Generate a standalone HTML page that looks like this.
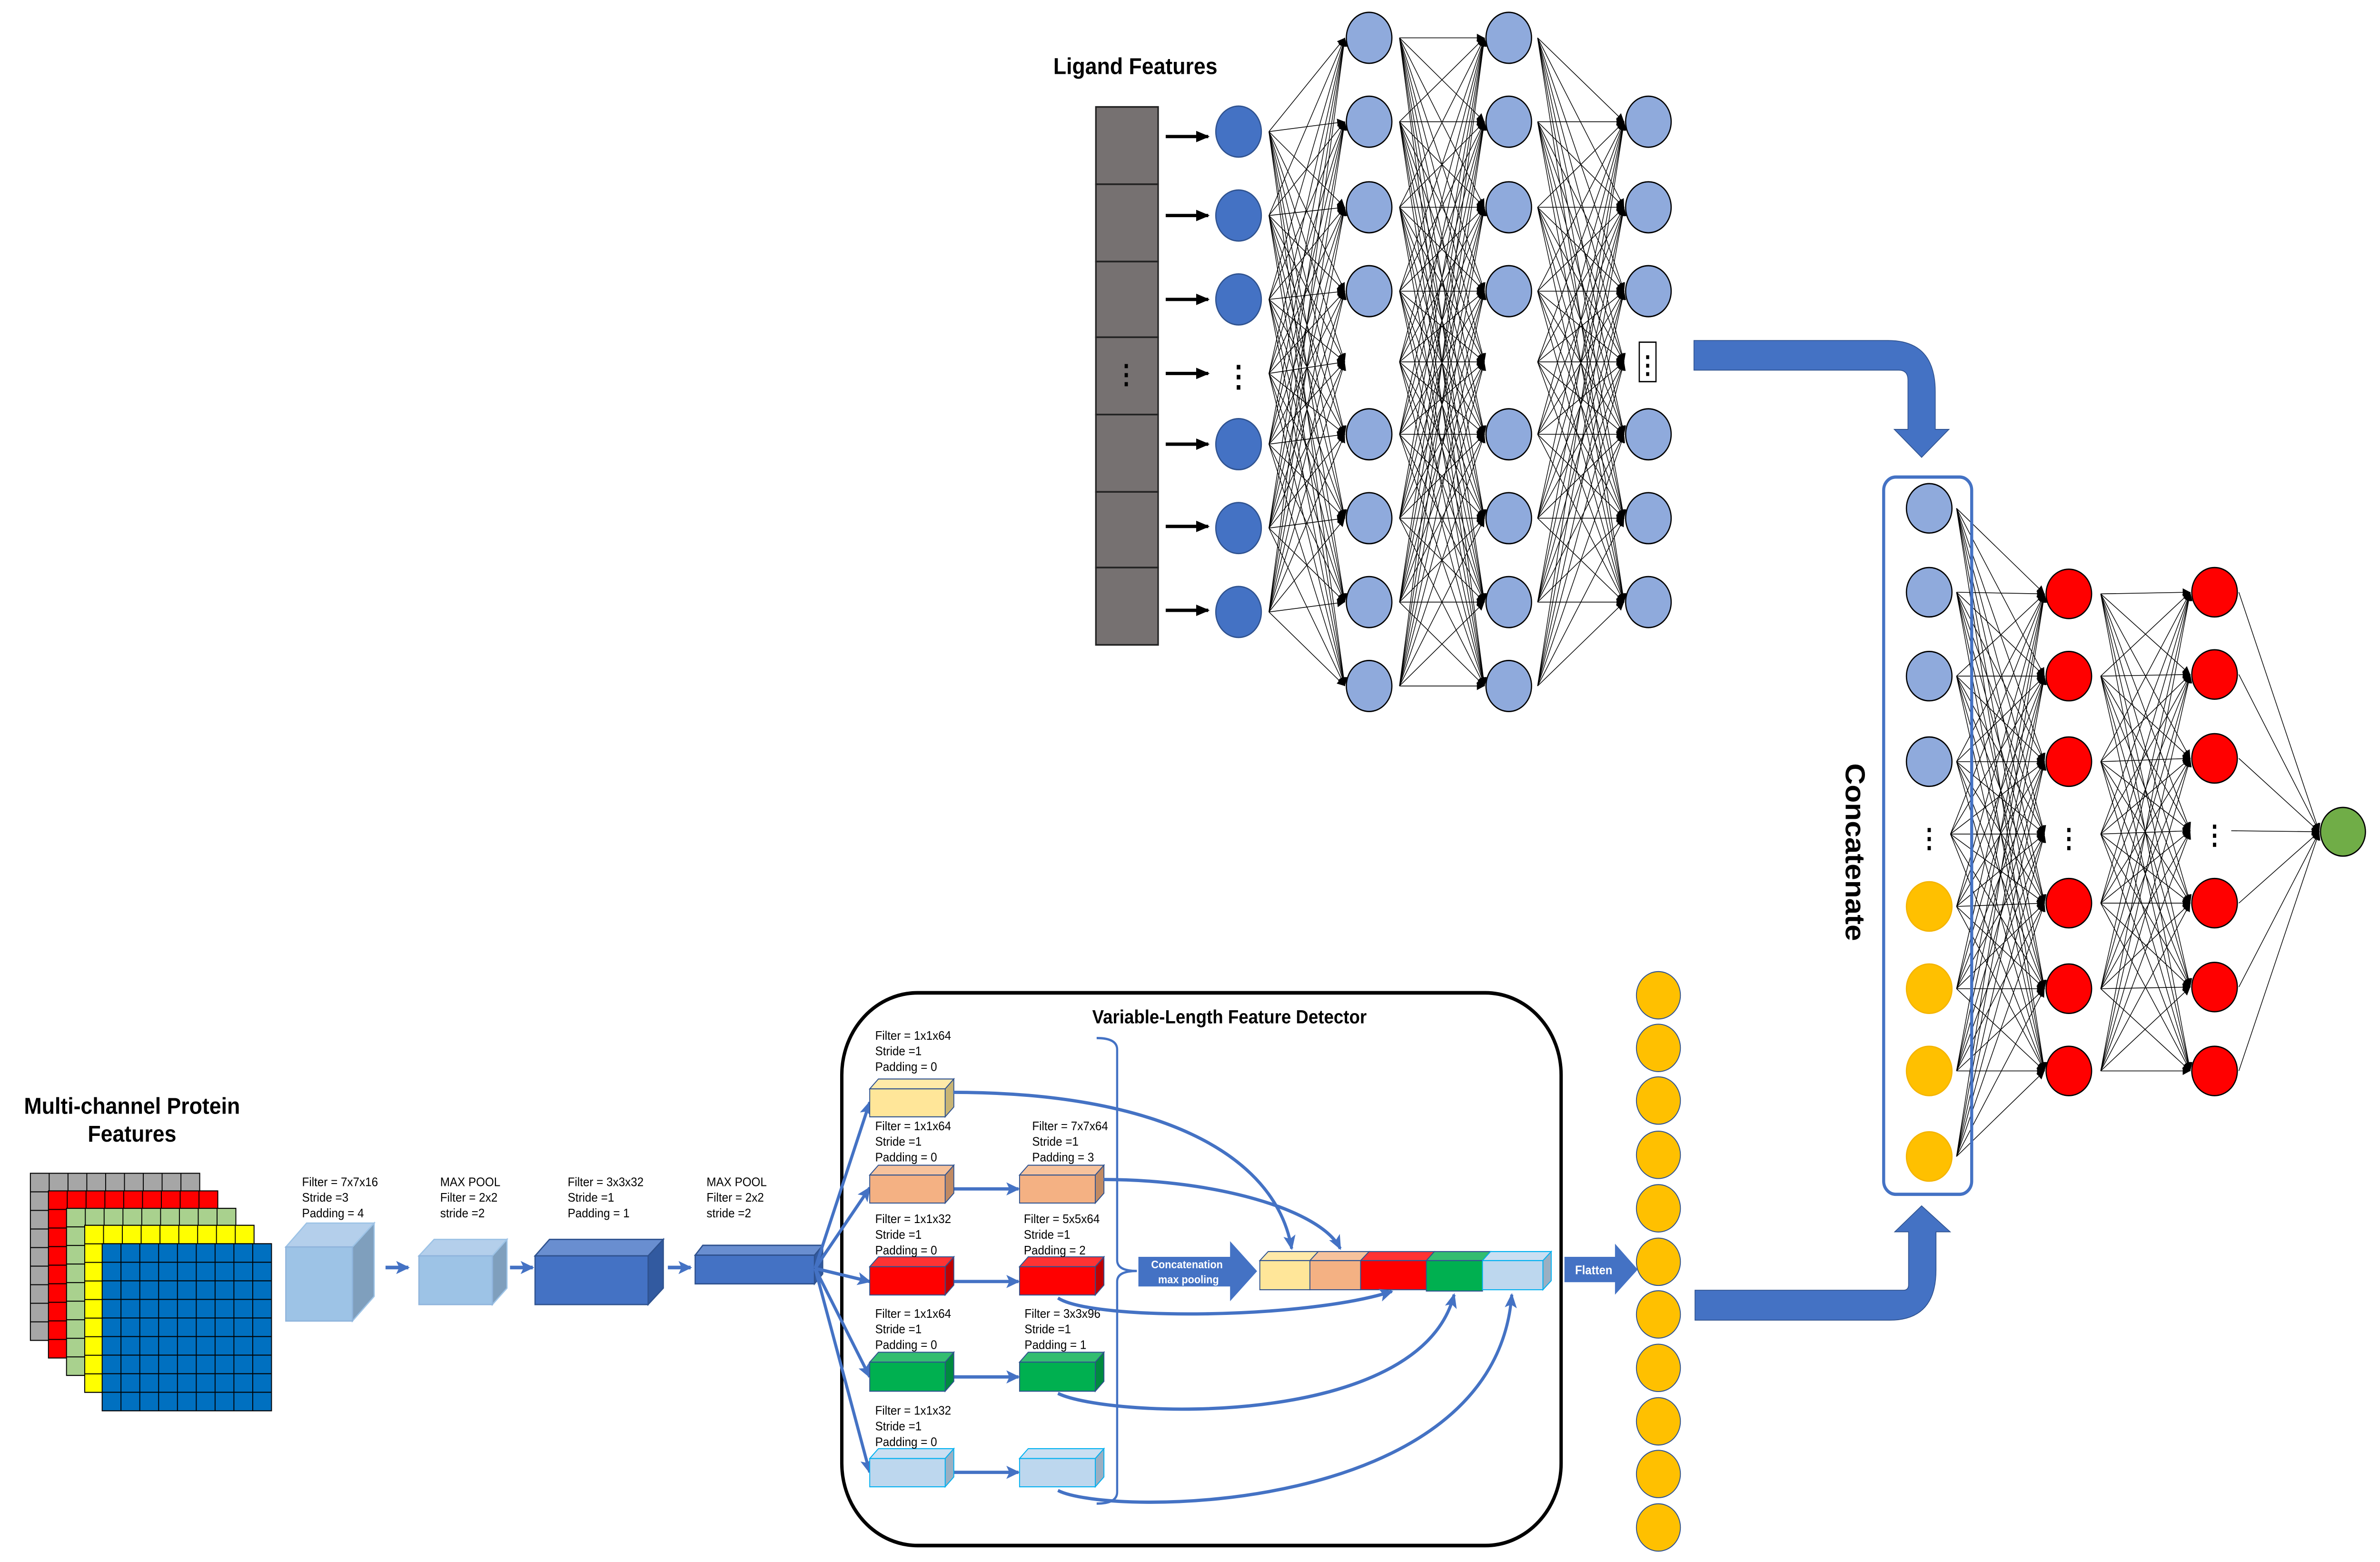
<!DOCTYPE html>
<html><head><meta charset="utf-8"><style>html,body{margin:0;padding:0;background:#fff;width:100%;height:100%;overflow:hidden}svg{display:block;width:100vw;height:100vh}</style></head>
<body>
<svg xmlns="http://www.w3.org/2000/svg" viewBox="0 0 1568 949.5" preserveAspectRatio="none" font-family="Liberation Sans, sans-serif">
<defs>
<marker id="bk" markerUnits="userSpaceOnUse" markerWidth="6" markerHeight="6" refX="5" refY="3" orient="auto"><path d="M0,0.5 L5,3 L0,5.5 Z" fill="#000"/></marker>
<marker id="bl" markerUnits="userSpaceOnUse" markerWidth="10" markerHeight="10" refX="8" refY="5" orient="auto"><path d="M0,1 L9,5 L0,9 L2,5 Z" fill="#4472c4"/></marker>
<marker id="ar" markerUnits="userSpaceOnUse" markerWidth="10" markerHeight="10" refX="8" refY="5" orient="auto"><path d="M0,1.5 L9,5 L0,8.5 Z" fill="#000"/></marker>
<pattern id="pg" patternUnits="userSpaceOnUse" x="20" y="713.2" width="12.4" height="11.29"><rect width="12.4" height="11.29" fill="#a6a6a6" stroke="#000" stroke-width="0.6"/></pattern>
<pattern id="pr" patternUnits="userSpaceOnUse" x="31.9" y="723.9" width="12.4" height="11.29"><rect width="12.4" height="11.29" fill="#ff0000" stroke="#000" stroke-width="0.6"/></pattern>
<pattern id="pn" patternUnits="userSpaceOnUse" x="43.8" y="734.5" width="12.4" height="11.29"><rect width="12.4" height="11.29" fill="#a9d18e" stroke="#000" stroke-width="0.6"/></pattern>
<pattern id="py" patternUnits="userSpaceOnUse" x="55.8" y="744.8" width="12.4" height="11.29"><rect width="12.4" height="11.29" fill="#ffff00" stroke="#000" stroke-width="0.6"/></pattern>
<pattern id="pb" patternUnits="userSpaceOnUse" x="67.3" y="756" width="12.4" height="11.29"><rect width="12.4" height="11.29" fill="#0070c0" stroke="#000" stroke-width="0.6"/></pattern>
</defs>
<rect width="1568" height="949.5" fill="#fff"/>

<!-- Ligand -->
<text x="748" y="45" font-size="14" font-weight="bold" text-anchor="middle">Ligand Features</text>
<g fill="#767171" stroke="#222" stroke-width="1">
<rect x="722" y="65" width="41" height="47"/><rect x="722" y="112" width="41" height="47"/><rect x="722" y="159" width="41" height="46"/><rect x="722" y="205" width="41" height="47"/><rect x="722" y="252" width="41" height="47"/><rect x="722" y="299" width="41" height="46"/><rect x="722" y="345" width="41" height="47"/>
</g>
<text x="742" y="233" font-size="16" font-weight="bold" text-anchor="middle">⋮</text>
<g stroke="#000" stroke-width="2" marker-end="url(#ar)">
<line x1="768" y1="83" x2="796" y2="83"/><line x1="768" y1="131" x2="796" y2="131"/><line x1="768" y1="182" x2="796" y2="182"/><line x1="768" y1="227" x2="796" y2="227"/><line x1="768" y1="270" x2="796" y2="270"/><line x1="768" y1="320" x2="796" y2="320"/><line x1="768" y1="371" x2="796" y2="371"/>
</g>
<text x="816" y="235" font-size="18" font-weight="bold" text-anchor="middle">⋮</text>

<g stroke="#000" stroke-width="0.45" fill="none" marker-end="url(#bk)">
<path d="M836 80L886 23"/><path d="M836 80L886 74"/><path d="M836 80L886 126"/><path d="M836 80L886 177"/><path d="M836 80L886 220"/><path d="M836 80L886 264"/><path d="M836 80L886 315"/><path d="M836 80L886 366"/><path d="M836 80L886 417"/>
<path d="M836 131L886 23"/><path d="M836 131L886 74"/><path d="M836 131L886 126"/><path d="M836 131L886 177"/><path d="M836 131L886 220"/><path d="M836 131L886 264"/><path d="M836 131L886 315"/><path d="M836 131L886 366"/><path d="M836 131L886 417"/>
<path d="M836 182L886 23"/><path d="M836 182L886 74"/><path d="M836 182L886 126"/><path d="M836 182L886 177"/><path d="M836 182L886 220"/><path d="M836 182L886 264"/><path d="M836 182L886 315"/><path d="M836 182L886 366"/><path d="M836 182L886 417"/>
<path d="M836 227L886 23"/><path d="M836 227L886 74"/><path d="M836 227L886 126"/><path d="M836 227L886 177"/><path d="M836 227L886 220"/><path d="M836 227L886 264"/><path d="M836 227L886 315"/><path d="M836 227L886 366"/><path d="M836 227L886 417"/>
<path d="M836 270L886 23"/><path d="M836 270L886 74"/><path d="M836 270L886 126"/><path d="M836 270L886 177"/><path d="M836 270L886 220"/><path d="M836 270L886 264"/><path d="M836 270L886 315"/><path d="M836 270L886 366"/><path d="M836 270L886 417"/>
<path d="M836 321L886 23"/><path d="M836 321L886 74"/><path d="M836 321L886 126"/><path d="M836 321L886 177"/><path d="M836 321L886 220"/><path d="M836 321L886 264"/><path d="M836 321L886 315"/><path d="M836 321L886 366"/><path d="M836 321L886 417"/>
<path d="M836 372L886 23"/><path d="M836 372L886 74"/><path d="M836 372L886 126"/><path d="M836 372L886 177"/><path d="M836 372L886 220"/><path d="M836 372L886 264"/><path d="M836 372L886 315"/><path d="M836 372L886 366"/><path d="M836 372L886 417"/>
<path d="M922 23L978 23"/><path d="M922 23L978 74"/><path d="M922 23L978 126"/><path d="M922 23L978 177"/><path d="M922 23L978 220"/><path d="M922 23L978 264"/><path d="M922 23L978 315"/><path d="M922 23L978 366"/><path d="M922 23L978 417"/>
<path d="M922 74L978 23"/><path d="M922 74L978 74"/><path d="M922 74L978 126"/><path d="M922 74L978 177"/><path d="M922 74L978 220"/><path d="M922 74L978 264"/><path d="M922 74L978 315"/><path d="M922 74L978 366"/><path d="M922 74L978 417"/>
<path d="M922 126L978 23"/><path d="M922 126L978 74"/><path d="M922 126L978 126"/><path d="M922 126L978 177"/><path d="M922 126L978 220"/><path d="M922 126L978 264"/><path d="M922 126L978 315"/><path d="M922 126L978 366"/><path d="M922 126L978 417"/>
<path d="M922 177L978 23"/><path d="M922 177L978 74"/><path d="M922 177L978 126"/><path d="M922 177L978 177"/><path d="M922 177L978 220"/><path d="M922 177L978 264"/><path d="M922 177L978 315"/><path d="M922 177L978 366"/><path d="M922 177L978 417"/>
<path d="M922 220L978 23"/><path d="M922 220L978 74"/><path d="M922 220L978 126"/><path d="M922 220L978 177"/><path d="M922 220L978 220"/><path d="M922 220L978 264"/><path d="M922 220L978 315"/><path d="M922 220L978 366"/><path d="M922 220L978 417"/>
<path d="M922 264L978 23"/><path d="M922 264L978 74"/><path d="M922 264L978 126"/><path d="M922 264L978 177"/><path d="M922 264L978 220"/><path d="M922 264L978 264"/><path d="M922 264L978 315"/><path d="M922 264L978 366"/><path d="M922 264L978 417"/>
<path d="M922 315L978 23"/><path d="M922 315L978 74"/><path d="M922 315L978 126"/><path d="M922 315L978 177"/><path d="M922 315L978 220"/><path d="M922 315L978 264"/><path d="M922 315L978 315"/><path d="M922 315L978 366"/><path d="M922 315L978 417"/>
<path d="M922 366L978 23"/><path d="M922 366L978 74"/><path d="M922 366L978 126"/><path d="M922 366L978 177"/><path d="M922 366L978 220"/><path d="M922 366L978 264"/><path d="M922 366L978 315"/><path d="M922 366L978 366"/><path d="M922 366L978 417"/>
<path d="M922 417L978 23"/><path d="M922 417L978 74"/><path d="M922 417L978 126"/><path d="M922 417L978 177"/><path d="M922 417L978 220"/><path d="M922 417L978 264"/><path d="M922 417L978 315"/><path d="M922 417L978 366"/><path d="M922 417L978 417"/>
<path d="M1013 23L1070 74"/><path d="M1013 23L1070 126"/><path d="M1013 23L1070 177"/><path d="M1013 23L1070 220"/><path d="M1013 23L1070 264"/><path d="M1013 23L1070 315"/><path d="M1013 23L1070 366"/>
<path d="M1013 74L1070 74"/><path d="M1013 74L1070 126"/><path d="M1013 74L1070 177"/><path d="M1013 74L1070 220"/><path d="M1013 74L1070 264"/><path d="M1013 74L1070 315"/><path d="M1013 74L1070 366"/>
<path d="M1013 126L1070 74"/><path d="M1013 126L1070 126"/><path d="M1013 126L1070 177"/><path d="M1013 126L1070 220"/><path d="M1013 126L1070 264"/><path d="M1013 126L1070 315"/><path d="M1013 126L1070 366"/>
<path d="M1013 177L1070 74"/><path d="M1013 177L1070 126"/><path d="M1013 177L1070 177"/><path d="M1013 177L1070 220"/><path d="M1013 177L1070 264"/><path d="M1013 177L1070 315"/><path d="M1013 177L1070 366"/>
<path d="M1013 220L1070 74"/><path d="M1013 220L1070 126"/><path d="M1013 220L1070 177"/><path d="M1013 220L1070 220"/><path d="M1013 220L1070 264"/><path d="M1013 220L1070 315"/><path d="M1013 220L1070 366"/>
<path d="M1013 264L1070 74"/><path d="M1013 264L1070 126"/><path d="M1013 264L1070 177"/><path d="M1013 264L1070 220"/><path d="M1013 264L1070 264"/><path d="M1013 264L1070 315"/><path d="M1013 264L1070 366"/>
<path d="M1013 315L1070 74"/><path d="M1013 315L1070 126"/><path d="M1013 315L1070 177"/><path d="M1013 315L1070 220"/><path d="M1013 315L1070 264"/><path d="M1013 315L1070 315"/><path d="M1013 315L1070 366"/>
<path d="M1013 366L1070 74"/><path d="M1013 366L1070 126"/><path d="M1013 366L1070 177"/><path d="M1013 366L1070 220"/><path d="M1013 366L1070 264"/><path d="M1013 366L1070 315"/><path d="M1013 366L1070 366"/>
<path d="M1013 417L1070 74"/><path d="M1013 417L1070 126"/><path d="M1013 417L1070 177"/><path d="M1013 417L1070 220"/><path d="M1013 417L1070 264"/><path d="M1013 417L1070 315"/><path d="M1013 417L1070 366"/>
<path d="M1289 309L1347 361"/><path d="M1289 309L1347 411"/><path d="M1289 309L1347 463"/><path d="M1289 309L1347 507"/><path d="M1289 309L1347 549"/><path d="M1289 309L1347 601"/><path d="M1289 309L1347 651"/>
<path d="M1289 360L1347 361"/><path d="M1289 360L1347 411"/><path d="M1289 360L1347 463"/><path d="M1289 360L1347 507"/><path d="M1289 360L1347 549"/><path d="M1289 360L1347 601"/><path d="M1289 360L1347 651"/>
<path d="M1289 411L1347 361"/><path d="M1289 411L1347 411"/><path d="M1289 411L1347 463"/><path d="M1289 411L1347 507"/><path d="M1289 411L1347 549"/><path d="M1289 411L1347 601"/><path d="M1289 411L1347 651"/>
<path d="M1289 463L1347 361"/><path d="M1289 463L1347 411"/><path d="M1289 463L1347 463"/><path d="M1289 463L1347 507"/><path d="M1289 463L1347 549"/><path d="M1289 463L1347 601"/><path d="M1289 463L1347 651"/>
<path d="M1285 507L1347 361"/><path d="M1285 507L1347 411"/><path d="M1285 507L1347 463"/><path d="M1285 507L1347 507"/><path d="M1285 507L1347 549"/><path d="M1285 507L1347 601"/><path d="M1285 507L1347 651"/>
<path d="M1289 551L1347 361"/><path d="M1289 551L1347 411"/><path d="M1289 551L1347 463"/><path d="M1289 551L1347 507"/><path d="M1289 551L1347 549"/><path d="M1289 551L1347 601"/><path d="M1289 551L1347 651"/>
<path d="M1289 601L1347 361"/><path d="M1289 601L1347 411"/><path d="M1289 601L1347 463"/><path d="M1289 601L1347 507"/><path d="M1289 601L1347 549"/><path d="M1289 601L1347 601"/><path d="M1289 601L1347 651"/>
<path d="M1289 651L1347 361"/><path d="M1289 651L1347 411"/><path d="M1289 651L1347 463"/><path d="M1289 651L1347 507"/><path d="M1289 651L1347 549"/><path d="M1289 651L1347 601"/><path d="M1289 651L1347 651"/>
<path d="M1289 703L1347 361"/><path d="M1289 703L1347 411"/><path d="M1289 703L1347 463"/><path d="M1289 703L1347 507"/><path d="M1289 703L1347 549"/><path d="M1289 703L1347 601"/><path d="M1289 703L1347 651"/>
<path d="M1384 361L1443 360"/><path d="M1384 361L1443 410"/><path d="M1384 361L1443 461"/><path d="M1384 361L1443 505"/><path d="M1384 361L1443 549"/><path d="M1384 361L1443 600"/><path d="M1384 361L1443 651"/>
<path d="M1384 411L1443 360"/><path d="M1384 411L1443 410"/><path d="M1384 411L1443 461"/><path d="M1384 411L1443 505"/><path d="M1384 411L1443 549"/><path d="M1384 411L1443 600"/><path d="M1384 411L1443 651"/>
<path d="M1384 463L1443 360"/><path d="M1384 463L1443 410"/><path d="M1384 463L1443 461"/><path d="M1384 463L1443 505"/><path d="M1384 463L1443 549"/><path d="M1384 463L1443 600"/><path d="M1384 463L1443 651"/>
<path d="M1384 507L1443 360"/><path d="M1384 507L1443 410"/><path d="M1384 507L1443 461"/><path d="M1384 507L1443 505"/><path d="M1384 507L1443 549"/><path d="M1384 507L1443 600"/><path d="M1384 507L1443 651"/>
<path d="M1384 549L1443 360"/><path d="M1384 549L1443 410"/><path d="M1384 549L1443 461"/><path d="M1384 549L1443 505"/><path d="M1384 549L1443 549"/><path d="M1384 549L1443 600"/><path d="M1384 549L1443 651"/>
<path d="M1384 601L1443 360"/><path d="M1384 601L1443 410"/><path d="M1384 601L1443 461"/><path d="M1384 601L1443 505"/><path d="M1384 601L1443 549"/><path d="M1384 601L1443 600"/><path d="M1384 601L1443 651"/>
<path d="M1384 651L1443 360"/><path d="M1384 651L1443 410"/><path d="M1384 651L1443 461"/><path d="M1384 651L1443 505"/><path d="M1384 651L1443 549"/><path d="M1384 651L1443 600"/><path d="M1384 651L1443 651"/>
<path d="M1475 360L1528 505.6"/><path d="M1475 410L1528 505.6"/><path d="M1475 461L1528 505.6"/><path d="M1470 505L1528 505.6"/><path d="M1475 549L1528 505.6"/><path d="M1475 600L1528 505.6"/><path d="M1475 651L1528 505.6"/>
</g>

<g fill="#4472c4" stroke="#2f528f" stroke-width="0.8">
<ellipse cx="816" cy="80" rx="15" ry="15.5"/><ellipse cx="816" cy="131" rx="15" ry="15.5"/><ellipse cx="816" cy="182" rx="15" ry="15.5"/><ellipse cx="816" cy="270" rx="15" ry="15.5"/><ellipse cx="816" cy="321" rx="15" ry="15.5"/><ellipse cx="816" cy="372" rx="15" ry="15.5"/>
</g>
<g fill="#8faadc" stroke="#000" stroke-width="0.8">
<ellipse cx="902" cy="23" rx="15" ry="15.5"/><ellipse cx="902" cy="74" rx="15" ry="15.5"/><ellipse cx="902" cy="126" rx="15" ry="15.5"/><ellipse cx="902" cy="177" rx="15" ry="15.5"/><ellipse cx="902" cy="264" rx="15" ry="15.5"/><ellipse cx="902" cy="315" rx="15" ry="15.5"/><ellipse cx="902" cy="366" rx="15" ry="15.5"/><ellipse cx="902" cy="417" rx="15" ry="15.5"/>
<ellipse cx="994" cy="23" rx="15" ry="15.5"/><ellipse cx="994" cy="74" rx="15" ry="15.5"/><ellipse cx="994" cy="126" rx="15" ry="15.5"/><ellipse cx="994" cy="177" rx="15" ry="15.5"/><ellipse cx="994" cy="264" rx="15" ry="15.5"/><ellipse cx="994" cy="315" rx="15" ry="15.5"/><ellipse cx="994" cy="366" rx="15" ry="15.5"/><ellipse cx="994" cy="417" rx="15" ry="15.5"/>
<ellipse cx="1086" cy="74" rx="15" ry="15.5"/><ellipse cx="1086" cy="126" rx="15" ry="15.5"/><ellipse cx="1086" cy="177" rx="15" ry="15.5"/><ellipse cx="1086" cy="264" rx="15" ry="15.5"/><ellipse cx="1086" cy="315" rx="15" ry="15.5"/><ellipse cx="1086" cy="366" rx="15" ry="15.5"/>
<ellipse cx="1271" cy="309" rx="15" ry="15"/><ellipse cx="1271" cy="360" rx="15" ry="15"/><ellipse cx="1271" cy="411" rx="15" ry="15"/><ellipse cx="1271" cy="463" rx="15" ry="15"/>
</g>
<g fill="#ffc000" stroke="#f4b400" stroke-width="0.8">
<ellipse cx="1271" cy="551" rx="15" ry="15"/><ellipse cx="1271" cy="601" rx="15" ry="15"/><ellipse cx="1271" cy="651" rx="15" ry="15"/><ellipse cx="1271" cy="703" rx="15" ry="15"/>
</g>
<g fill="#ff0000" stroke="#000" stroke-width="0.8">
<ellipse cx="1363" cy="361" rx="15" ry="15"/><ellipse cx="1363" cy="411" rx="15" ry="15"/><ellipse cx="1363" cy="463" rx="15" ry="15"/><ellipse cx="1363" cy="549" rx="15" ry="15"/><ellipse cx="1363" cy="601" rx="15" ry="15"/><ellipse cx="1363" cy="651" rx="15" ry="15"/>
<ellipse cx="1459" cy="360" rx="15" ry="15"/><ellipse cx="1459" cy="410" rx="15" ry="15"/><ellipse cx="1459" cy="461" rx="15" ry="15"/><ellipse cx="1459" cy="549" rx="15" ry="15"/><ellipse cx="1459" cy="600" rx="15" ry="15"/><ellipse cx="1459" cy="651" rx="15" ry="15"/>
</g>
<ellipse cx="1543.6" cy="505.6" rx="14.8" ry="14.8" fill="#70ad47" stroke="#000" stroke-width="0.8"/>

<rect x="1080" y="208" width="11" height="24" fill="#fff" stroke="#000" stroke-width="0.8"/>
<text x="1085.5" y="227" font-size="15" font-weight="bold" text-anchor="middle">⋮</text>

<path d="M1116,207 L1244,207 Q1275,207 1275,238 L1275,261 L1284,261 L1266,278 L1248,261 L1257,261 L1257,231 Q1257,225 1251,225 L1116,225 Z" fill="#4472c4" stroke="#2f528f" stroke-width="0.5"/>
<path d="M1116.7,802.5 L1245,802.5 Q1275.5,802.5 1275.5,772 L1275.5,748.8 L1284.8,748.8 L1266,733 L1248.3,748.8 L1257.4,748.8 L1257.4,781 Q1257.4,784.3 1254,784.3 L1116.7,784.3 Z" fill="#4472c4" stroke="#2f528f" stroke-width="0.5"/>

<rect x="1241" y="290" width="58" height="436" rx="8" fill="none" stroke="#4472c4" stroke-width="2"/>
<text x="0" y="0" font-size="18" font-weight="bold" text-anchor="middle" transform="translate(1216,518) rotate(90)">Concatenate</text>
<text x="1271" y="515" font-size="16" font-weight="bold" text-anchor="middle">⋮</text>
<text x="1363" y="515" font-size="16" font-weight="bold" text-anchor="middle">⋮</text>
<text x="1459" y="513" font-size="16" font-weight="bold" text-anchor="middle">⋮</text>

<g fill="#ffc000" stroke="#2f528f" stroke-width="0.6">
<ellipse cx="1092.6" cy="605" rx="14.5" ry="14.4"/><ellipse cx="1092.6" cy="637" rx="14.5" ry="14.4"/><ellipse cx="1092.6" cy="669" rx="14.5" ry="14.4"/><ellipse cx="1092.6" cy="702" rx="14.5" ry="14.4"/><ellipse cx="1092.6" cy="734.5" rx="14.5" ry="14.4"/><ellipse cx="1092.6" cy="767" rx="14.5" ry="14.4"/><ellipse cx="1092.6" cy="799" rx="14.5" ry="14.4"/><ellipse cx="1092.6" cy="831.5" rx="14.5" ry="14.4"/><ellipse cx="1092.6" cy="864" rx="14.5" ry="14.4"/><ellipse cx="1092.6" cy="896" rx="14.5" ry="14.4"/><ellipse cx="1092.6" cy="928.5" rx="14.5" ry="14.4"/>
</g>

<path d="M1030.7,764 L1064,764 L1064,756 L1079,771.7 L1064,787 L1064,779.4 L1030.7,779.4 Z" fill="#4472c4"/>
<text x="1050" y="774.5" font-size="7.5" font-weight="bold" fill="#fff" text-anchor="middle">Flatten</text>

<text x="87" y="677" font-size="14" font-weight="bold" text-anchor="middle">Multi-channel Protein</text>
<text x="87" y="694" font-size="14" font-weight="bold" text-anchor="middle">Features</text>
<g stroke="#000" stroke-width="0.6">
<rect x="20" y="713.2" width="111.6" height="101.6" fill="url(#pg)"/>
<rect x="31.9" y="723.9" width="111.6" height="101.6" fill="url(#pr)"/>
<rect x="43.8" y="734.5" width="111.6" height="101.6" fill="url(#pn)"/>
<rect x="55.8" y="744.8" width="111.6" height="101.6" fill="url(#py)"/>
<rect x="67.3" y="756" width="111.6" height="101.6" fill="url(#pb)"/>
</g>

<g stroke-width="0.8">
<polygon points="188.3,758 202,743.5 246.5,743.5 232.2,758" fill="#b4cfeb" stroke="#9dc3e6"/>
<polygon points="232.2,758 246.5,743.5 246.5,788 232.2,803" fill="#7f9fbd" stroke="#9dc3e6"/>
<rect x="188.3" y="758" width="43.9" height="45" fill="#9dc3e6" stroke="#8fb4dc"/>
<polygon points="276,763.4 286,753.4 334,753.4 324.4,763.4" fill="#b4cfeb" stroke="#9dc3e6"/>
<polygon points="324.4,763.4 334,753.4 334,783 324.4,793" fill="#7f9fbd" stroke="#9dc3e6"/>
<rect x="276" y="763.4" width="48.4" height="29.6" fill="#9dc3e6" stroke="#8fb4dc"/>
<polygon points="352.5,763.4 362,753.4 437,753.4 427,763.4" fill="#698ed0" stroke="#2f528f"/>
<polygon points="427,763.4 437,753.4 437,783 427,793" fill="#325aa0" stroke="#2f528f"/>
<rect x="352.5" y="763.4" width="74.5" height="29.6" fill="#4472c4" stroke="#2f528f"/>
<polygon points="458,763 463,757 542,757 536.6,763" fill="#698ed0" stroke="#2f528f"/>
<polygon points="536.6,763 542,757 542,774.4 536.6,780.4" fill="#325aa0" stroke="#2f528f"/>
<rect x="458" y="763" width="78.6" height="17.4" fill="#4472c4" stroke="#2f528f"/>
</g>
<g font-size="7.6">
<text x="199" y="721">Filter = 7x7x16</text><text x="199" y="730.5">Stride =3</text><text x="199" y="740">Padding = 4</text>
<text x="290" y="721">MAX POOL</text><text x="290" y="730.5">Filter = 2x2</text><text x="290" y="740">stride =2</text>
<text x="374" y="721">Filter = 3x3x32</text><text x="374" y="730.5">Stride =1</text><text x="374" y="740">Padding = 1</text>
<text x="465.5" y="721">MAX POOL</text><text x="465.5" y="730.5">Filter = 2x2</text><text x="465.5" y="740">stride =2</text>
</g>
<g fill="none" stroke="#4472c4" stroke-width="2.2" marker-end="url(#bl)">
<line x1="254" y1="770.5" x2="269" y2="770.5"/><line x1="336" y1="770.5" x2="351" y2="770.5"/><line x1="440" y1="770.5" x2="455" y2="770.5"/>
</g>

<rect x="554.6" y="603.5" width="473.9" height="336" rx="50" fill="none" stroke="#000" stroke-width="2.2"/>
<text x="810" y="622" font-size="11.5" font-weight="bold" text-anchor="middle">Variable-Length Feature Detector</text>
<g fill="none" stroke="#4472c4" stroke-width="2" marker-end="url(#bl)">
<line x1="537" y1="771" x2="573" y2="670"/>
<line x1="537" y1="771" x2="573" y2="722"/>
<line x1="537" y1="771" x2="573" y2="779"/>
<line x1="537" y1="771" x2="573" y2="837"/>
<line x1="537" y1="771" x2="573" y2="895"/>
<line x1="623" y1="722.7" x2="671" y2="722.7"/>
<line x1="623" y1="779" x2="671" y2="779"/>
<line x1="623" y1="837" x2="671" y2="837"/>
<line x1="623" y1="895" x2="671" y2="895"/>
</g>

<g stroke-width="0.6">
<g stroke="#2f528f">
<polygon points="573,661.9 578.7,655.9 628.4,655.9 622.7,661.9" fill="#ffeaa8"/>
<polygon points="622.7,661.9 628.4,655.9 628.4,672.9 622.7,678.9" fill="#c9b574"/>
<rect x="573" y="661.9" width="49.7" height="17" fill="#ffe699"/>
<polygon points="573,714.3 578.7,708.3 628.4,708.3 622.7,714.3" fill="#f6c29c"/>
<polygon points="622.7,714.3 628.4,708.3 628.4,725.3 622.7,731.3" fill="#c18a63"/>
<rect x="573" y="714.3" width="49.7" height="17" fill="#f4b183"/>
<polygon points="671.7,714.3 677.4,708.3 727.3,708.3 721.6,714.3" fill="#f6c29c"/>
<polygon points="721.6,714.3 727.3,708.3 727.3,725.3 721.6,731.3" fill="#c18a63"/>
<rect x="671.7" y="714.3" width="49.9" height="17" fill="#f4b183"/>
<polygon points="573,770 578.7,764 628.4,764 622.7,770" fill="#ff3333"/>
<polygon points="622.7,770 628.4,764 628.4,781.2 622.7,787.2" fill="#c00000"/>
<rect x="573" y="770" width="49.7" height="17.2" fill="#ff0000"/>
<polygon points="671.7,770 677.4,764 727.3,764 721.6,770" fill="#ff3333"/>
<polygon points="721.6,770 727.3,764 727.3,781.2 721.6,787.2" fill="#c00000"/>
<rect x="671.7" y="770" width="49.9" height="17.2" fill="#ff0000"/>
<polygon points="573,828 578.7,822 628.4,822 622.7,828" fill="#33bd70"/>
<polygon points="622.7,828 628.4,822 628.4,839.7 622.7,845.7" fill="#008a3e"/>
<rect x="573" y="828" width="49.7" height="17.7" fill="#00b050"/>
<polygon points="671.7,828 677.4,822 727.3,822 721.6,828" fill="#33bd70"/>
<polygon points="721.6,828 727.3,822 727.3,839.7 721.6,845.7" fill="#008a3e"/>
<rect x="671.7" y="828" width="49.9" height="17.7" fill="#00b050"/>
</g>
<g stroke="#00b0f0">
<polygon points="573,886.6 578.7,880.6 628.4,880.6 622.7,886.6" fill="#cadff2"/>
<polygon points="622.7,886.6 628.4,880.6 628.4,897.8 622.7,903.8" fill="#9aafc2"/>
<rect x="573" y="886.6" width="49.7" height="17.2" fill="#bdd7ee"/>
<polygon points="671.7,886.6 677.4,880.6 727.3,880.6 721.6,886.6" fill="#cadff2"/>
<polygon points="721.6,886.6 727.3,880.6 727.3,897.8 721.6,903.8" fill="#9aafc2"/>
<rect x="671.7" y="886.6" width="49.9" height="17.2" fill="#bdd7ee"/>
</g>
</g>

<g font-size="7.6">
<text x="576.6" y="632">Filter = 1x1x64</text><text x="576.6" y="641.5">Stride =1</text><text x="576.6" y="651">Padding = 0</text>
<text x="576.6" y="687">Filter = 1x1x64</text><text x="576.6" y="696.5">Stride =1</text><text x="576.6" y="706">Padding = 0</text>
<text x="680" y="687">Filter = 7x7x64</text><text x="680" y="696.5">Stride =1</text><text x="680" y="706">Padding = 3</text>
<text x="576.6" y="743.5">Filter = 1x1x32</text><text x="576.6" y="753">Stride =1</text><text x="576.6" y="762.5">Padding = 0</text>
<text x="674.5" y="743.5">Filter = 5x5x64</text><text x="674.5" y="753">Stride =1</text><text x="674.5" y="762.5">Padding = 2</text>
<text x="576.6" y="801">Filter = 1x1x64</text><text x="576.6" y="810.5">Stride =1</text><text x="576.6" y="820">Padding = 0</text>
<text x="675" y="801">Filter = 3x3x96</text><text x="675" y="810.5">Stride =1</text><text x="675" y="820">Padding = 1</text>
<text x="576.6" y="860">Filter = 1x1x32</text><text x="576.6" y="869.5">Stride =1</text><text x="576.6" y="879">Padding = 0</text>
</g>
<path d="M722.5,631 Q736,631 736,638 L736,766 Q736,772.6 749,772.6 Q736,772.6 736,779 L736,907 Q736,914 722.5,914" fill="none" stroke="#4472c4" stroke-width="1.4"/>
<path d="M750,764 L810.4,764 L810.4,754.5 L828.2,772.7 L810.4,791 L810.4,782 L750,782 Z" fill="#4472c4"/>
<text x="782" y="771" font-size="6.8" font-weight="bold" fill="#fff" text-anchor="middle">Concatenation</text>
<text x="783" y="780" font-size="6.8" font-weight="bold" fill="#fff" text-anchor="middle">max pooling</text>
<g stroke="#2f528f" stroke-width="0.6">
<polygon points="830,766.3 835.5,760.8 868.5,760.8 863,766.3" fill="#ffe9a8"/>
<polygon points="863,766.3 868.5,760.8 902,760.8 896.4,766.3" fill="#f6c29c"/>
<polygon points="896.4,766.3 902,760.8 945,760.8 939.7,766.3" fill="#ff3333"/>
<polygon points="939.7,766.3 945,760.8 982,760.8 976.7,766.3" fill="#33bd70"/>
<polygon points="976.7,766.3 982,760.8 1022,760.8 1016.5,766.3" fill="#cadff2" stroke="#00b0f0"/>
<polygon points="1016.5,766.3 1022,760.8 1022,778.5 1016.5,784" fill="#9aafc2" stroke="#00b0f0"/>
<rect x="830" y="766.3" width="33" height="17.7" fill="#ffe699"/>
<rect x="863" y="766.3" width="33.4" height="17.7" fill="#f4b183"/>
<rect x="896.4" y="766.3" width="43.3" height="17.7" fill="#ff0000"/>
<rect x="939.7" y="766.3" width="37" height="18.5" fill="#00b050"/>
<rect x="976.7" y="766.3" width="39.8" height="17.7" fill="#bdd7ee" stroke="#00b0f0"/>
</g>
<g fill="none" stroke="#4472c4" stroke-width="2" marker-end="url(#bl)">
<path d="M628,664 C760,664 840,700 851,759"/>
<path d="M727,717 C800,717 870,735 883,759"/>
<path d="M697,789 C720,803 860,802 917,785"/>
<path d="M697,847 C730,862 935,870 958,787"/>
<path d="M697,906 C730,922 985,922 996,787"/>
</g>
</svg>
</body></html>
